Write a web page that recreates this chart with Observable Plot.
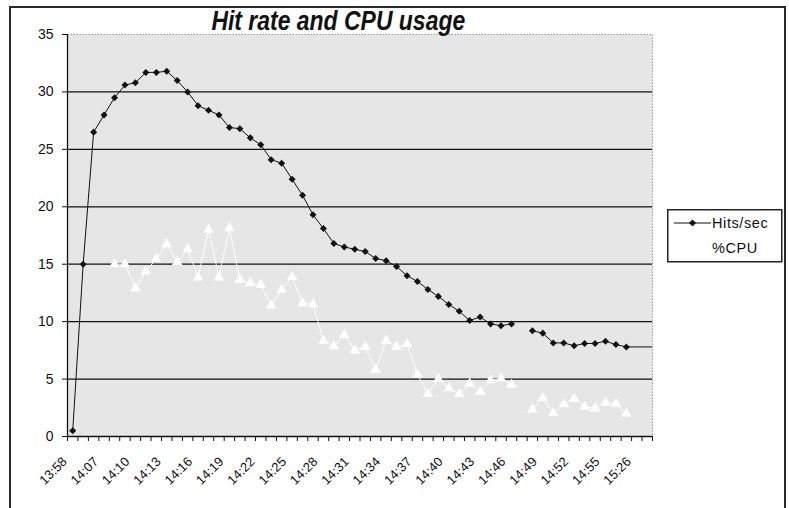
<!DOCTYPE html>
<html>
<head>
<meta charset="utf-8">
<script src="https://cdn.jsdelivr.net/npm/d3@7"></script>
<script src="https://cdn.jsdelivr.net/npm/@observablehq/plot@0.6"></script>
<style>
  html, body { margin: 0; padding: 0; background: #fff; }
  #wrap { position: relative; width: 789px; height: 508px; overflow: hidden; background: #fff; font-family: "Liberation Sans", Arial, sans-serif; }
  #border { position: absolute; left: 9px; top: 6px; width: 773px; height: 540px; border: 2px solid #2a2a2a; }
  #chart { position: absolute; left: 0; top: 0; }
  #title { position: absolute; left: 0; top: 6px; width: 676px; text-align: center; font-size: 27px; font-weight: bold; font-style: italic; color: #111; white-space: nowrap; }
  #title span { display: inline-block; transform: scaleX(0.85); transform-origin: center; }
  #legend { position: absolute; left: 667px; top: 209px; }
</style>
</head>
<body>
<div id="wrap">
  <div id="border"></div>
  <div id="chart"></div>
  <div id="title"><span>Hit rate and CPU usage</span></div>
  <div id="legend"></div>
</div>
<script>
// Category positions 0..55 (one per sample); labels shown every third category
const nCategories = 56;
const tickLabels = ["13:58","14:07","14:10","14:13","14:16","14:19","14:22","14:25","14:28","14:31","14:34","14:37","14:40","14:43","14:46","14:49","14:52","14:55","15:26"];
const tickLabelIndex = [0,3,6,9,12,15,18,21,24,27,30,33,36,39,42,45,48,51,54];
const yTicks = [0,5,10,15,20,25,30,35];

const hits = [0.5, 15, 26.5, 28, 29.5, 30.6, 30.8, 31.7, 31.7, 31.8,
  31.0, 30.0, 28.8, 28.4, 28.0, 26.9, 26.8, 26.0, 25.4, 24.1,
  23.8, 22.4, 21.0, 19.3, 18.1, 16.8, 16.5, 16.3, 16.1, 15.5,
  15.3, 14.8, 14.0, 13.5, 12.8, 12.2, 11.5, 10.9, 10.1, 10.4,
  9.8, 9.65, 9.8, null, 9.2, 9.0, 8.15, 8.15, 7.9, 8.1,
  8.1, 8.3, 8.0, 7.8];
const cpu = [null, null, null, null, 15.0, 15.0, 12.9, 14.4, 15.45, 16.75,
  15.2, 16.3, 13.85, 18.0, 13.85, 18.15, 13.65, 13.35, 13.2, 11.4,
  12.8, 13.9, 11.6, 11.5, 8.35, 7.85, 8.85, 7.5, 7.8, 5.8,
  8.35, 7.8, 8.05, 5.4, 3.7, 5.0, 4.2, 3.7, 4.6, 3.9,
  4.9, 5.05, 4.5, null, 2.35, 3.35, 2.05, 2.8, 3.3, 2.6,
  2.45, 2.95, 2.85, 2.0];

const hitsData = hits.map((v, i) => ({i, v}));
const cpuData = cpu.map((v, i) => ({i, v}));
const lastHit = hitsData.filter(d => d.v != null).at(-1);
const labels = tickLabelIndex.map((i, k) => ({i, t: tickLabels[k]}));
const boundaries = d3.range(nCategories + 1).map(k => k - 0.5);

const chart = Plot.plot({
  width: 789,
  height: 508,
  marginLeft: 67,
  marginRight: 137,
  marginTop: 34,
  marginBottom: 72,
  x: {domain: [-0.5, nCategories - 0.5], axis: null, label: null},
  y: {domain: [0, 35], axis: null, label: null},
  style: {background: "transparent", fontFamily: "'Liberation Sans', Arial, sans-serif", color: "#111"},
  marks: [
    Plot.frame({fill: "#e6e6e6", stroke: "#9a9a9a", strokeDasharray: "1.5,1.5"}),
    Plot.ruleY(yTicks.filter(d => d > 0 && d < 35), {stroke: "#111", strokeWidth: 1.3}),
    Plot.ruleX([-0.5], {stroke: "#111", strokeWidth: 1.3}),
    Plot.ruleY([0], {stroke: "#111", strokeWidth: 1.3}),
    Plot.axisY({ticks: yTicks, tickSize: 5, tickPadding: 9, fontSize: 14, tickFormat: d => d, stroke: "#111", label: null}),
    Plot.axisX({ticks: boundaries, tickSize: 5, tickFormat: () => "", stroke: "#111", label: null}),
    Plot.text(labels, {x: "i", y: 0, text: "t", rotate: -45, textAnchor: "end", dx: -8, dy: 23, fontSize: 13, fill: "#111", style: "letter-spacing:0.4px"}),
    Plot.line(cpuData, {x: "i", y: "v", stroke: "white", strokeWidth: 1}),
    Plot.dot(cpuData.filter(d => d.v != null), {x: "i", y: "v", symbol: "triangle", fill: "white", stroke: "none", r: 3.9}),
    Plot.line(hitsData, {x: "i", y: "v", stroke: "#111", strokeWidth: 1}),
    Plot.ruleY([lastHit], {y: "v", x1: "i", x2: nCategories - 0.5, stroke: "#111", strokeWidth: 1}),
    Plot.dot(hitsData.filter(d => d.v != null), {x: "i", y: "v", symbol: "square", rotate: 45, fill: "#111", stroke: "none", r: 2.8})
  ]
});
document.getElementById("chart").appendChild(chart);

// Legend
const legendItems = [
  {name: "Hits/sec", color: "#111", symbol: d3.symbolSquare, rot: 45},
  {name: "%CPU", color: "white", symbol: d3.symbolTriangle, rot: 0}
];
const lg = d3.select("#legend").append("svg").attr("width", 116).attr("height", 54);
lg.append("rect").attr("x", 0.75).attr("y", 0.75).attr("width", 114).attr("height", 52)
  .attr("fill", "white").attr("stroke", "#222").attr("stroke-width", 1.5);
legendItems.forEach((d, k) => {
  const cy = 14 + k * 25;
  lg.append("line").attr("x1", 7).attr("x2", 44).attr("y1", cy).attr("y2", cy).attr("stroke", d.color).attr("stroke-width", 1);
  lg.append("path").attr("d", d3.symbol(d.symbol, 25)()).attr("transform", `translate(25.5,${cy}) rotate(${d.rot})`).attr("fill", d.color);
  lg.append("text").attr("x", 45).attr("y", cy + 5).text(d.name)
    .attr("font-family", "'Liberation Sans', Arial, sans-serif").attr("font-size", 14.5).attr("letter-spacing", "0.6px").attr("fill", "#111");
});
</script>
</body>
</html>
